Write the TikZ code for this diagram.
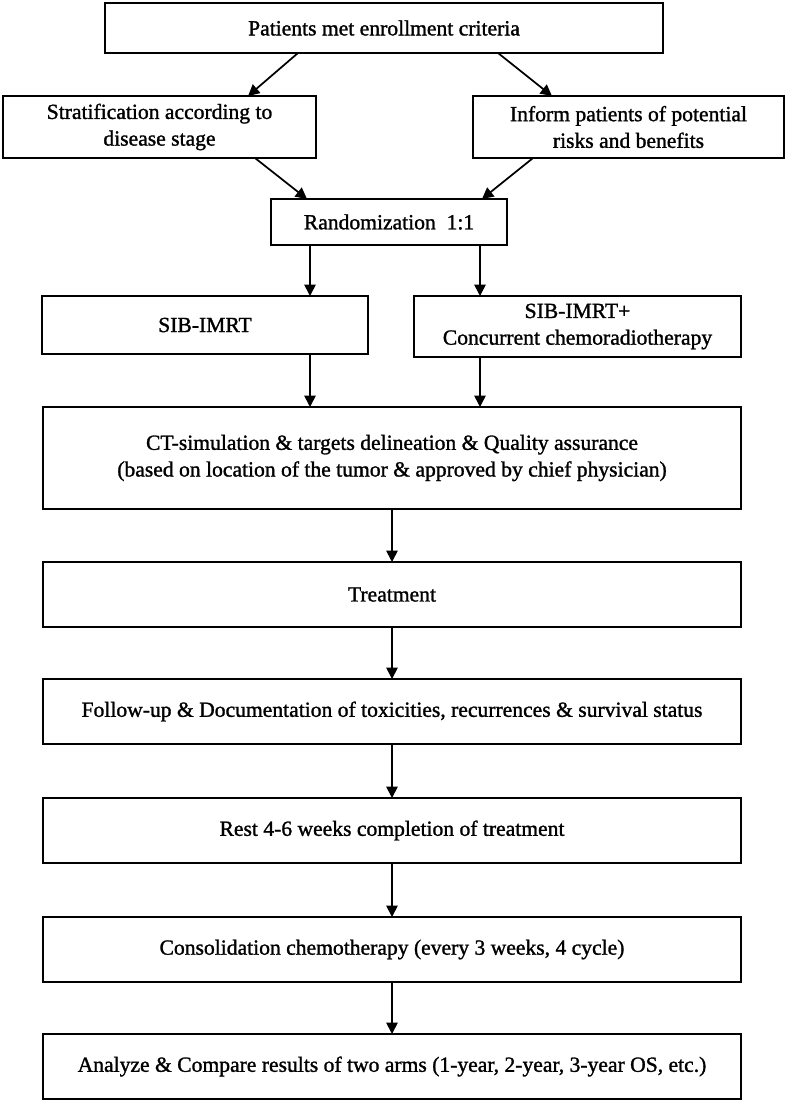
\documentclass[tikz,border=0pt]{standalone}
\usepackage{fontspec}
\setmainfont{Liberation Serif}[BoldFont=Liberation Serif,BoldFeatures={FakeBold=1.3}]
\usetikzlibrary{arrows.meta}
\begin{document}
\begin{tikzpicture}[x=0.75pt,y=-0.75pt,
  box/.style={draw=black,line width=1.5pt,inner sep=0pt,outer sep=0pt,align=center,
    font=\fontsize{16.2}{20}\selectfont\bfseries,fill=white},
  wide/.style={box,minimum width=523.5pt,minimum height=48.75pt},
  arr/.style={line width=1.3pt,-{Triangle[length=8.5pt,width=8.5pt]}}]
\useasboundingbox[fill=white] (0,0) rectangle (787,1102);
\node[box,minimum width=418.5pt,minimum height=37.5pt] (p) at (384,28) {Patients met enrollment criteria};
\node[box,minimum width=234.75pt,minimum height=46.5pt] (s) at (159.5,127) {Stratification according to\\disease stage};
\node[box,minimum width=233.25pt,minimum height=46.5pt] (i) at (628.5,127) {Inform patients of potential\\risks and benefits};
\node[box,minimum width=177pt,minimum height=34.5pt] (r) at (389,222) {Randomization\ \ 1:1};
\node[box,minimum width=244.5pt,minimum height=43.5pt] (a1) at (205,325) {SIB-IMRT};
\node[box,minimum width=245.25pt,minimum height=45.75pt] (a2) at (577.5,326.5) {SIB-IMRT+\\Concurrent chemoradiotherapy};
\node[box,minimum width=523.5pt,minimum height=76.5pt] (ct) at (392,458) {CT-simulation \& targets delineation \& Quality assurance\\(based on location of the tumor \& approved by chief physician)};
\node[wide] (t) at (392,594.5) {Treatment};
\node[wide] (f) at (392,711.5) {Follow-up \& Documentation of toxicities, recurrences \& survival status};
\node[wide] (re) at (392,830.5) {Rest 4-6 weeks completion of treatment};
\node[wide] (c) at (392,949.5) {Consolidation chemotherapy (every 3 weeks, 4 cycle)};
\node[wide] (an) at (392,1066.5) {Analyze \& Compare results of two arms (1-year, 2-year, 3-year OS, etc.)};
\draw[arr] ([xshift=-64.5pt]p.south) -- ([xshift=66.4pt]s.north);
\draw[arr] ([xshift=85.5pt]p.south) -- ([xshift=-57.4pt]i.north);
\draw[arr] ([xshift=71.6pt]s.south) -- ([xshift=-61.5pt]r.north);
\draw[arr] ([xshift=-71.6pt]i.south) -- ([xshift=69.75pt]r.north);
\draw[arr] ([xshift=-59.25pt]r.south) -- ([xshift=78.75pt]a1.north);
\draw[arr] ([xshift=68.25pt]r.south) -- ([xshift=-73.125pt]a2.north);
\draw[arr] ([xshift=78.75pt]a1.south) -- ([xshift=-61.5pt]ct.north);
\draw[arr] ([xshift=-73.125pt]a2.south) -- ([xshift=66pt]ct.north);
\draw[arr] (ct) -- (t);
\draw[arr] (t) -- (f);
\draw[arr] (f) -- (re);
\draw[arr] (re) -- (c);
\draw[arr] (c) -- (an);
\end{tikzpicture}
\end{document}
